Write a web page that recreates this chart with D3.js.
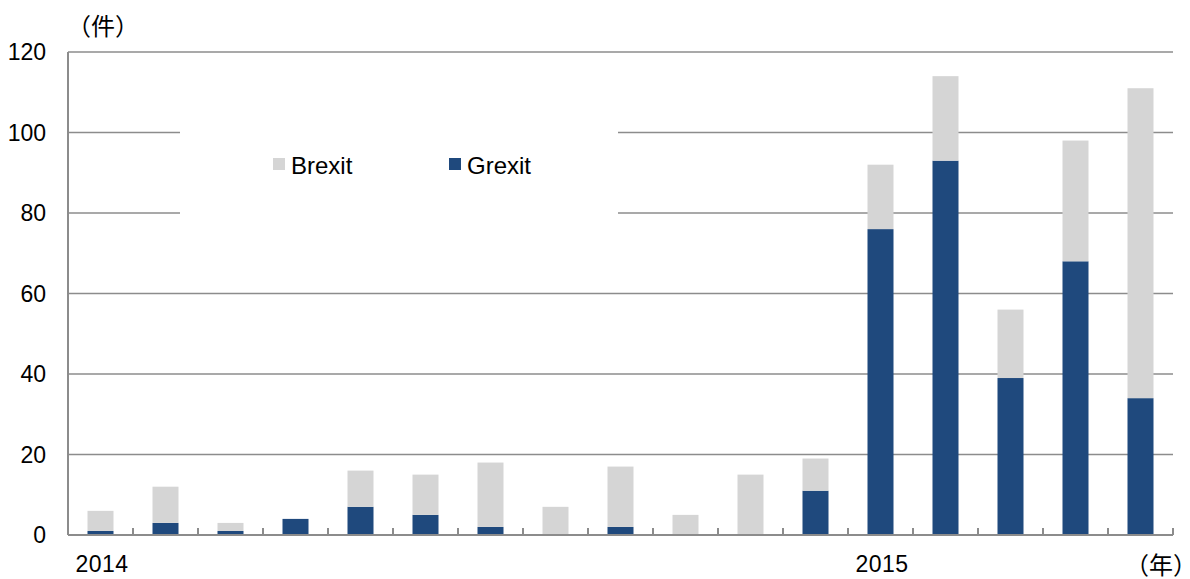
<!DOCTYPE html>
<html>
<head>
<meta charset="utf-8">
<script src="https://cdn.jsdelivr.net/npm/d3@7"></script>
<style>
  body { margin: 0; background: #fff; }
  text { font-family: "Liberation Sans", Arial, sans-serif; fill: #000; }
  text.cjk { font-family: "Noto Sans CJK JP", "Noto Sans CJK SC", sans-serif; }
</style>
</head>
<body>
<svg width="1190" height="579"></svg>
<script>
var months = ["2014-01","2014-02","2014-03","2014-04","2014-05","2014-06","2014-07","2014-08","2014-09","2014-10","2014-11","2014-12","2015-01","2015-02","2015-03","2015-04","2015-05"];
var grexit = [1, 3, 1, 4, 7, 5, 2, 0, 2, 0, 0, 11, 76, 93, 39, 68, 34];
var brexit = [5, 9, 2, 0, 9, 10, 16, 7, 15, 5, 15, 8, 16, 21, 17, 30, 77];
var yTicks = [0, 20, 40, 60, 80, 100, 120];
var yearLabels = [{month: "2014-01", label: "2014"}, {month: "2015-01", label: "2015"}];
var seriesNames = ["Brexit", "Grexit"];
var colors = {Grexit: "#1f497d", Brexit: "#d5d5d5"};

var svg = d3.select("svg");
var plotLeft = 68, plotRight = 1173, plotTop = 52, plotBottom = 535;

var x = d3.scaleBand().domain(months).range([plotLeft, plotRight]).paddingInner(0.6).paddingOuter(0.3);
var y = d3.scaleLinear().domain([0, 120]).range([plotBottom, plotTop]);

var table = months.map(function (m, i) {
  return {month: m, Grexit: grexit[i], Brexit: brexit[i]};
});
var stack = d3.stack().keys(["Grexit", "Brexit"]);
var layers = stack(table);

// gridlines
svg.append("g")
  .selectAll("line")
  .data(yTicks.slice(1))
  .enter()
  .append("line")
  .attr("x1", plotLeft)
  .attr("x2", plotRight)
  .attr("y1", function (d) { return y(d); })
  .attr("y2", function (d) { return y(d); })
  .attr("stroke", "#8c8c8c")
  .attr("stroke-width", 1.5);

// y labels
svg.append("g")
  .selectAll("text")
  .data(yTicks)
  .enter()
  .append("text")
  .attr("x", 46)
  .attr("y", function (d) { return y(d) + 8; })
  .attr("text-anchor", "end")
  .style("font-size", "23px")
  .text(function (d) { return d; });

// bars
svg.append("g")
  .selectAll("g")
  .data(layers)
  .enter()
  .append("g")
  .attr("fill", function (d) { return colors[d.key]; })
  .selectAll("rect")
  .data(function (d) { return d; })
  .enter()
  .append("rect")
  .attr("x", function (d) { return x(d.data.month); })
  .attr("width", x.bandwidth())
  .attr("y", function (d) { return y(d[1]); })
  .attr("height", function (d) { return y(d[0]) - y(d[1]); });

// axes lines
svg.append("line")
  .attr("x1", plotLeft).attr("x2", plotLeft)
  .attr("y1", plotTop).attr("y2", plotBottom)
  .attr("stroke", "#8c8c8c").attr("stroke-width", 2);
svg.append("line")
  .attr("x1", plotLeft).attr("x2", plotRight)
  .attr("y1", plotBottom).attr("y2", plotBottom)
  .attr("stroke", "#8c8c8c").attr("stroke-width", 2);

// category boundary ticks
var step = x.step();
svg.append("g")
  .selectAll("line")
  .data(d3.range(months.length + 1))
  .enter()
  .append("line")
  .attr("x1", function (i) { return plotLeft + i * step; })
  .attr("x2", function (i) { return plotLeft + i * step; })
  .attr("y1", plotBottom)
  .attr("y2", plotBottom - 7)
  .attr("stroke", "#8c8c8c")
  .attr("stroke-width", 2);

// year labels
svg.append("g")
  .selectAll("text")
  .data(yearLabels)
  .enter()
  .append("text")
  .attr("x", function (d) { return x(d.month) - 12; })
  .attr("y", 572)
  .style("font-size", "23px")
  .style("letter-spacing", "0.5px")
  .text(function (d) { return d.label; });

// unit labels
svg.append("text").attr("class", "cjk")
  .attr("x", 67).attr("y", 35)
  .style("font-size", "24px")
  .text("（件）");
svg.append("text").attr("class", "cjk")
  .attr("x", 1125).attr("y", 574)
  .style("font-size", "24px")
  .text("（年）");

// legend (white box over gridlines)
svg.append("rect")
  .attr("x", 180).attr("y", 120)
  .attr("width", 438).attr("height", 100)
  .attr("fill", "#fff");
var legend = svg.append("g")
  .selectAll("g")
  .data(seriesNames)
  .enter()
  .append("g")
  .attr("transform", function (d, i) { return "translate(" + (273 + i * 176) + ",158)"; });
legend.append("rect")
  .attr("width", 12).attr("height", 12)
  .attr("fill", function (d) { return colors[d]; });
legend.append("text")
  .attr("x", 18).attr("y", 16)
  .style("font-size", "24px")
  .text(function (d) { return d; });
</script>
</body>
</html>
